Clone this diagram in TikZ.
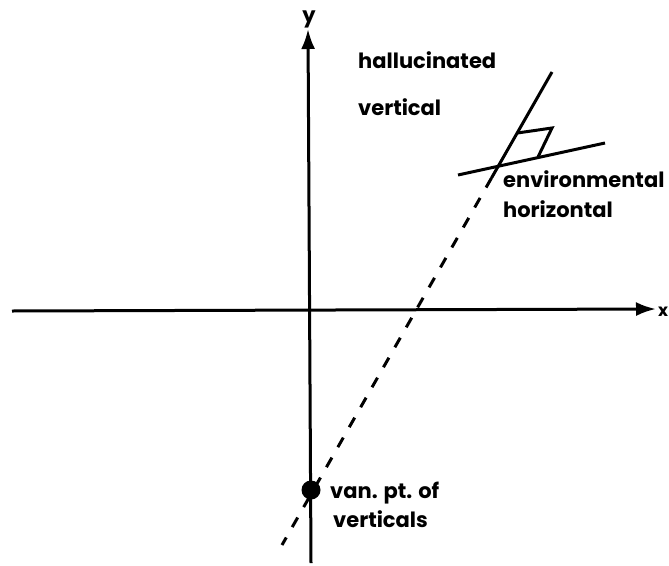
\documentclass[tikz,border=0pt]{standalone}
\usepackage{fontspec}
\setmainfont{Poppins}
\usetikzlibrary{arrows.meta,calc}
\begin{document}
\begin{tikzpicture}[x=1pt,y=-1pt,
  axis/.style={line width=3pt,-{Latex[length=20pt,width=14pt]}},
  ln/.style={line width=3pt},
  dln/.style={line width=3pt,dash pattern=on 11pt off 12pt},
  lbl/.style={font=\fontsize{21}{24}\selectfont\bfseries,inner sep=0pt,anchor=base west}]
\useasboundingbox (0,0) rectangle (669,565);
% axes
\coordinate (yb) at (311,563);
\coordinate (yt) at (308,29);
\coordinate (xl) at (12,311);
\coordinate (xr) at (656,309);
\draw[axis] (yb) -- (yt);
\draw[axis] (xl) -- (xr);
\node[lbl,anchor=base] (ylab) at (309,22) {y};
\node[lbl,font=\fontsize{17}{20}\selectfont\bfseries] (xlab) at (658,316) {x};
% lines
\coordinate (T) at (552,72);
\coordinate (B) at (282,545);
\coordinate (H1) at (458,175);
\coordinate (H2) at (605,143);
\coordinate (D) at (intersection of T--B and H1--H2);
\coordinate (S) at ($(T)!0.224!(B)$);
\coordinate (A) at ($(T)!0.129!(B)$);
\coordinate (P) at (552,128);
\coordinate (C) at (538,157);
\draw[ln] (T) -- (S);
\draw[dln] (S) -- (B);
\draw[ln] (H1) -- (H2);
\draw[ln] (A) -- (P) -- (C);
% vanishing point
\node[circle,fill=black,minimum size=19pt,inner sep=0pt] (vp) at (311,490) {};
% labels
\node[lbl] (hall) at (358,68) {hallucinated};
\node[lbl] (vert) at (358,115) {vertical};
\node[lbl] (env) at (503,187) {environmental};
\node[lbl] (hor) at (503,217) {horizontal};
\node[lbl] (van) at (330,498) {van. pt. of};
\node[lbl] (verts) at (333,527) {verticals};
\end{tikzpicture}
\end{document}
